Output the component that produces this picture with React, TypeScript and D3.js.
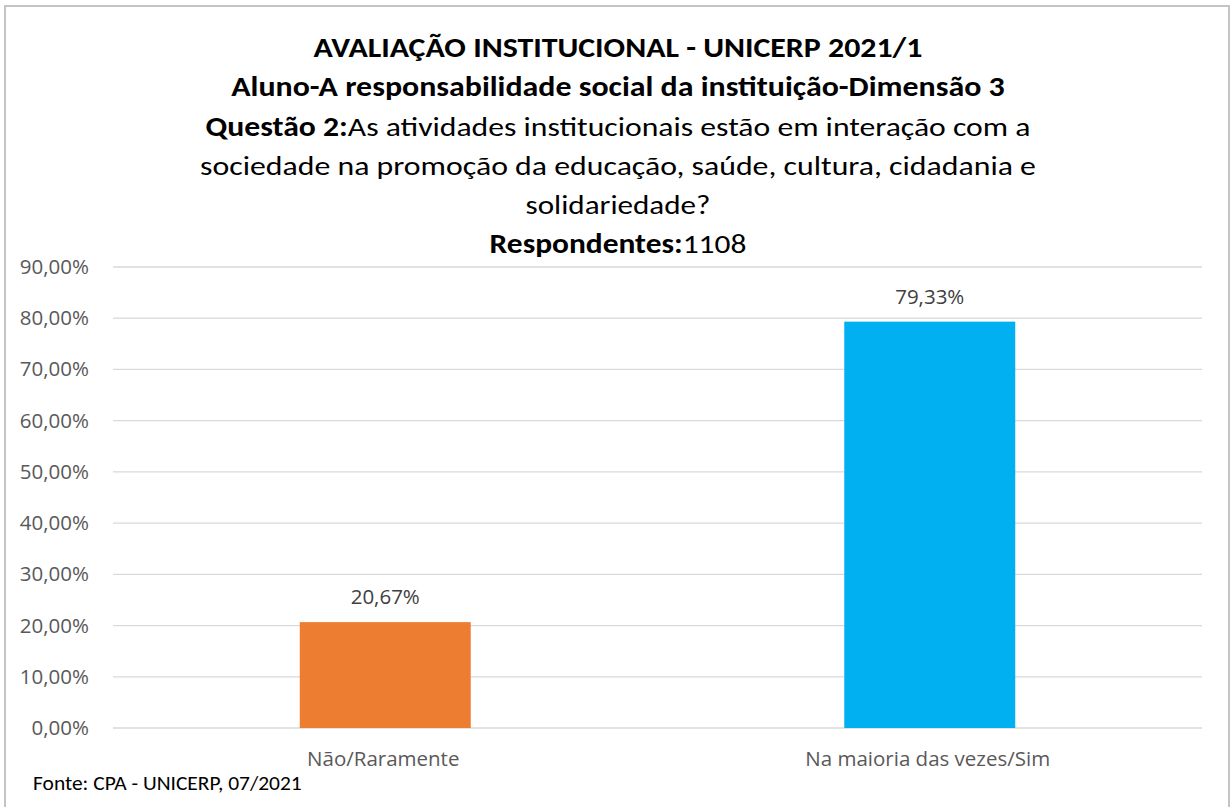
import React, { useEffect, useRef } from "react";
import * as d3 from "d3";

const categories = ["Não/Raramente", "Na maioria das vezes/Sim"];
const values = [20.67, 79.33];
const barColors = ["#ED7D31", "#00B0F0"];
const yTickValues = [0, 10, 20, 30, 40, 50, 60, 70, 80, 90];
const titleLines: { t: string; b: boolean }[][] = [
  [{ t: "AVALIAÇÃO INSTITUCIONAL - UNICERP 2021/1", b: true }],
  [{ t: "Aluno-A responsabilidade social da instituição-Dimensão 3", b: true }],
  [
    { t: "Questão 2:", b: true },
    { t: "As atividades institucionais estão em interação com a", b: false },
  ],
  [{ t: "sociedade na promoção da educação, saúde, cultura, cidadania e", b: false }],
  [{ t: "solidariedade?", b: false }],
  [
    { t: "Respondentes:", b: true },
    { t: "1108", b: false },
  ],
];
const sourceNote = "Fonte: CPA - UNICERP, 07/2021";

const W = 1231;
const H = 807;

export default function App() {
  const ref = useRef<SVGSVGElement | null>(null);

  useEffect(() => {
    const svg = d3.select(ref.current);
    svg.selectAll("*").remove();

    const locale = d3.formatLocale({
      decimal: ",",
      thousands: ".",
      grouping: [3],
      currency: ["R$", ""],
    });
    const fmt = (v: number) => locale.format(".2f")(v) + "%";

    const titleFont = "Carlito, Lato, sans-serif";
    const axisFont = "'Open Sans', 'Noto Sans', sans-serif";

    svg.append("rect").attr("width", W).attr("height", H).attr("fill", "#fff");
    svg
      .append("rect")
      .attr("x", 5)
      .attr("y", 6)
      .attr("width", 1224)
      .attr("height", 820)
      .attr("fill", "none")
      .attr("stroke", "#C4C4C4")
      .attr("stroke-width", 2);

    const plot = { left: 113, right: 1202, top: 267, bottom: 728 };

    const y = d3.scaleLinear().domain([0, 90]).range([plot.bottom, plot.top]);
    const x = d3
      .scaleBand<string>()
      .domain(categories)
      .range([plot.left, plot.right])
      .paddingInner(0.686)
      .paddingOuter(0.343);

    svg
      .append("g")
      .selectAll("line")
      .data(yTickValues)
      .join("line")
      .attr("x1", plot.left)
      .attr("x2", plot.right)
      .attr("y1", (d) => y(d))
      .attr("y2", (d) => y(d))
      .attr("stroke", "#D9D9D9")
      .attr("stroke-width", 1.3);

    svg
      .append("g")
      .selectAll("text")
      .data(yTickValues)
      .join("text")
      .attr("x", 89)
      .attr("y", (d) => y(d) + 7)
      .attr("text-anchor", "end")
      .attr("font-family", axisFont)
      .attr("font-size", 20.5)
      .attr("fill", "#595959")
      .text((d) => fmt(d));

    svg
      .append("g")
      .selectAll("rect")
      .data(values)
      .join("rect")
      .attr("x", (_, i) => x(categories[i])!)
      .attr("width", x.bandwidth())
      .attr("y", (d) => y(d))
      .attr("height", (d) => y(0) - y(d))
      .attr("fill", (_, i) => barColors[i]);

    svg
      .append("g")
      .selectAll("text")
      .data(values)
      .join("text")
      .attr("x", (_, i) => x(categories[i])! + x.bandwidth() / 2)
      .attr("y", (d) => y(d) - 18)
      .attr("text-anchor", "middle")
      .attr("font-family", axisFont)
      .attr("font-size", 20.5)
      .attr("fill", "#404040")
      .text((d) => fmt(d));

    svg
      .append("g")
      .selectAll("text")
      .data(categories)
      .join("text")
      .attr("x", (d) => x(d)! + x.bandwidth() / 2 - 2)
      .attr("y", 766)
      .attr("text-anchor", "middle")
      .attr("font-family", axisFont)
      .attr("font-size", 20.5)
      .attr("fill", "#595959")
      .text((d) => d);

    const titleWidths = [609, 774, 825, 836, 185, 257];
    const titleBaselines = [57, 96, 136, 175, 214, 253];
    const cx = 618;
    titleLines.forEach((segs, i) => {
      const g = svg.append("g");
      const t = g
        .append("text")
        .attr("text-anchor", "middle")
        .attr("font-family", titleFont)
        .attr("font-size", 27.5)
        .attr("fill", "#000");
      segs.forEach((s) => {
        t.append("tspan")
          .attr("font-weight", s.b ? "bold" : "normal")
          .text(s.t);
      });
      const w = (t.node() as SVGTextElement).getComputedTextLength();
      const sx = w > 0 ? titleWidths[i] / w : 1;
      g.attr("transform", `translate(${cx},${titleBaselines[i]}) scale(${sx},1)`);
    });

    const sg = svg.append("g");
    const st = sg
      .append("text")
      .attr("font-family", titleFont)
      .attr("font-size", 19.5)
      .attr("fill", "#000")
      .text(sourceNote);
    const sw = (st.node() as SVGTextElement).getComputedTextLength();
    sg.attr("transform", `translate(33,790) scale(${sw > 0 ? 269 / sw : 1},1)`);
  }, []);

  return (
    <svg
      ref={ref}
      width={W}
      height={H}
      style={{ position: "absolute", left: 0, top: 0, display: "block" }}
    />
  );
}
